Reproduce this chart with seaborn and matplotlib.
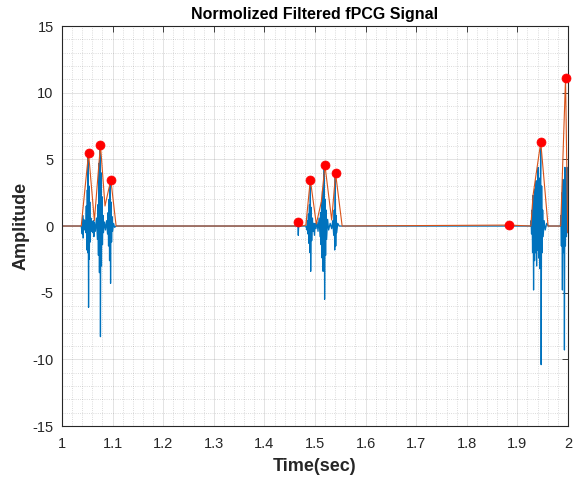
import numpy as np
import matplotlib
matplotlib.use("Agg")
import matplotlib.pyplot as plt
import seaborn as sns
from matplotlib.ticker import MultipleLocator

# blue signal bursts (time in sec, amplitude)
t_burst1 = [1.038, 1.040, 1.041, 1.042, 1.043, 1.044, 1.046, 1.047, 1.048, 1.049,
            1.050, 1.051, 1.0515, 1.0525, 1.0535, 1.054, 1.055, 1.056, 1.057, 1.058,
            1.060, 1.061, 1.062, 1.063, 1.064, 1.066, 1.068, 1.070, 1.071, 1.072,
            1.073, 1.074, 1.075, 1.076, 1.077, 1.078, 1.079, 1.080, 1.081, 1.082,
            1.084, 1.086, 1.088, 1.090, 1.091, 1.092, 1.093, 1.094, 1.095, 1.096,
            1.097, 1.098, 1.099, 1.100, 1.102, 1.104, 1.107]
a_burst1 = [0, -0.6, 0.8, -0.9, 0.5, -0.3, 0.4, -0.5, 1.5, -1.8,
            2.7, -2.0, 5.2, -6.1, 3.0, -2.5, 1.8, -1.2, 0.6, -0.4,
            0.3, -0.5, 0.4, -0.8, 0.3, -0.4, 0.6, -1.0, 1.6, -2.2,
            4.7, -3.5, 5.8, -8.3, 4.0, -3.0, 2.2, -1.4, 0.8, -0.5,
            0.3, -0.3, 0.4, -0.6, 1.0, -1.5, 2.0, -2.6, 3.2, -4.3,
            1.8, -1.2, 0.7, -0.4, 0.2, -0.1, 0]

t_burst2 = [1.465, 1.466, 1.467, 1.468, 1.469, 1.482, 1.484, 1.485, 1.486, 1.487,
            1.488, 1.489, 1.490, 1.4908, 1.4915, 1.4925, 1.4935, 1.495, 1.496, 1.497,
            1.499, 1.500, 1.502, 1.504, 1.506, 1.508, 1.510, 1.511, 1.512, 1.513,
            1.514, 1.515, 1.516, 1.517, 1.5183, 1.519, 1.520, 1.521, 1.522, 1.523,
            1.525, 1.527, 1.530, 1.533, 1.535, 1.537, 1.538, 1.539, 1.540, 1.541,
            1.542, 1.543, 1.545, 1.548]
a_burst2 = [0, 0.3, -0.7, 0.2, 0, 0, -0.3, 0.4, -0.6, 0.9,
            -1.3, 1.6, -2.0, 3.3, -3.4, 1.4, -1.1, 0.6, -0.4, 0.2,
            -0.7, 0.2, -0.2, 0.3, -0.4, 0.6, -0.8, 1.0, -1.4, 1.8,
            -2.4, 2.6, -3.4, 3.0, 4.4, -5.5, 2.0, -2.2, 1.2, -1.0,
            0.5, -0.3, 0.2, -0.2, 0.4, -0.7, 1.2, -1.8, 3.8, -1.5,
            0.8, -0.5, 0.2, 0]

t_burst3 = [1.926, 1.927, 1.928, 1.929, 1.930, 1.931, 1.932, 1.933, 1.934, 1.935,
            1.936, 1.937, 1.938, 1.939, 1.940, 1.941, 1.942, 1.943, 1.944, 1.945,
            1.9462, 1.947, 1.948, 1.949, 1.950, 1.951, 1.953, 1.955, 1.958, 1.961]
a_burst3 = [0, 0.4, -0.6, 1.2, -2.0, 2.3, -4.8, 1.8, -2.6, 2.8,
            -2.0, 3.4, -3.0, 2.2, -1.8, 4.4, -2.4, 3.6, -3.2, 2.0,
            5.8, -10.4, 3.0, -2.0, 1.2, -0.8, 0.4, -0.3, 0.2, 0]

t_burst4 = [1.985, 1.986, 1.987, 1.988, 1.989, 1.990, 1.991, 1.992, 1.993, 1.994,
            1.995, 1.996, 1.997, 1.998, 1.999, 2.000]
a_burst4 = [0, 0.8, -1.5, 2.5, -4.8, 3.5, -2.0, 2.5, -9.3, 4.4,
            -1.5, 3.8, -0.8, 4.4, -0.5, 2.0]

# orange envelope
t_env = [1.0, 1.038, 1.0525, 1.064, 1.076, 1.085, 1.0965, 1.107,
         1.460, 1.467, 1.474, 1.482, 1.4908, 1.5026, 1.5124, 1.5197, 1.533, 1.5407, 1.5537,
         1.8839, 1.9266, 1.931, 1.9462, 1.9606, 1.9856, 1.9952, 1.9995]
a_env = [0, 0, 5.47, 0.4, 6.1, 1.5, 3.48, 0,
         0, 0.32, 0, 0.07, 3.48, 0.15, 1.8, 4.55, 0.45, 3.95, 0,
         0.07, 0, 2.3, 6.29, 0, 0, 11.1, -0.5]

# red peak markers
t_peaks = [1.0525, 1.076, 1.0965, 1.467, 1.4908, 1.5197, 1.5407, 1.8839, 1.9462, 1.9952]
a_peaks = [5.47, 6.1, 3.48, 0.32, 3.48, 4.55, 3.95, 0.07, 6.29, 11.1]

t_sig = np.concatenate([[1.0], t_burst1, t_burst2, t_burst3, t_burst4])
a_sig = np.concatenate([[0.0], a_burst1, a_burst2, a_burst3, a_burst4])

sns.set_style("white")
plt.rcParams['font.family'] = ['Liberation Sans', 'DejaVu Sans']
plt.rcParams['axes.unicode_minus'] = False

fig = plt.figure(figsize=(5.74, 4.8), dpi=100)
ax = fig.add_axes([0.108, 0.1125, 0.8815, 0.8333])

sns.lineplot(x=t_sig, y=a_sig, ax=ax, color="#0072BD", linewidth=0.9,
             estimator=None, sort=False)
sns.lineplot(x=t_env, y=a_env, ax=ax, color="#D95319", linewidth=0.8,
             estimator=None, sort=False)
sns.scatterplot(x=t_peaks, y=a_peaks, ax=ax, color="red", s=42,
                edgecolor="red", linewidth=0.5, zorder=5, clip_on=False)

ax.set_xlim(1, 2)
ax.set_ylim(-15, 15)
ax.set_xticks(np.arange(1, 2.01, 0.1))
ax.set_xticklabels(["1", "1.1", "1.2", "1.3", "1.4", "1.5", "1.6", "1.7", "1.8", "1.9", "2"])
ax.set_yticks([-15, -10, -5, 0, 5, 10, 15])
ax.xaxis.set_minor_locator(MultipleLocator(0.02))
ax.yaxis.set_minor_locator(MultipleLocator(1))

ax.grid(True, which="major", color="#262626", alpha=0.15, linewidth=0.6)
ax.grid(True, which="minor", color="#262626", alpha=0.22, linestyle=":", linewidth=0.6)
ax.set_axisbelow(True)

for s in ax.spines.values():
    s.set_visible(True)
    s.set_color("#262626")
    s.set_linewidth(0.8)
ax.tick_params(which="major", direction="in", length=4, width=0.6, colors="#262626",
               labelsize=10.5, top=True, right=True)
ax.tick_params(axis="x", which="major", pad=8)
ax.tick_params(axis="y", which="major", pad=6)
ax.tick_params(which="minor", length=0, top=True, right=True)

ax.set_title("Normolized Filtered fPCG Signal", fontsize=11.5, fontweight="bold",
             color="black", pad=5)
ax.set_xlabel("Time(sec)", fontsize=13, fontweight="bold", color="#262626", labelpad=5)
ax.set_ylabel("Amplitude", fontsize=13, fontweight="bold", color="#262626", labelpad=2)

fig.savefig("out.png", dpi=100)
